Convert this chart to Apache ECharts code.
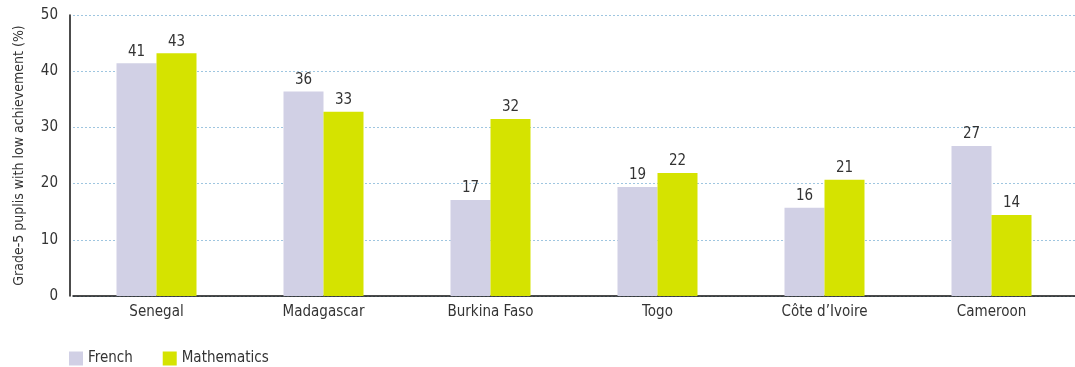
<!DOCTYPE html>
<html>
<head>
<meta charset="utf-8">
<script src="https://cdn.jsdelivr.net/npm/echarts@6/dist/echarts.min.js"></script>
<style>
  html, body { margin: 0; padding: 0; background: #fff; }
  #chart { width: 1075px; height: 367px; }
</style>
</head>
<body>
<div id="chart"></div>
<script>
// Share of grade-5 pupils with low achievement, by country and subject
const countries = ['Senegal', 'Madagascar', 'Burkina Faso', 'Togo', 'Côte d\u2019Ivoire', 'Cameroon'];
const french = [41.4, 36.4, 17.1, 19.4, 15.7, 26.7];
const mathematics = [43.2, 32.8, 31.5, 21.9, 20.7, 14.4];
const yTicks = [0, 10, 20, 30, 40, 50];

const FONT = '"DejaVu Sans Condensed", "Liberation Sans Narrow", "Roboto", sans-serif';
const TEXT = '#333';

const chart = echarts.init(document.getElementById('chart'));

function barSeries(name, values, color) {
  return {
    name: name,
    type: 'bar',
    data: values,
    barWidth: 40,
    barGap: '0%',
    itemStyle: { color: color },
    label: {
      show: true,
      position: 'top',
      distance: 4,
      color: TEXT,
      fontFamily: FONT,
      fontSize: 15,
      formatter: p => Math.round(p.value)
    }
  };
}

chart.setOption({
  animation: false,
  textStyle: { fontFamily: FONT },
  // plot area starts a few pixels right of the drawn y axis line
  grid: { left: 73, right: 0, top: 15, bottom: 71, containLabel: false },
  legend: {
    left: 64,
    top: 346,
    itemWidth: 14,
    itemHeight: 14,
    itemGap: 30,
    icon: 'rect',
    textStyle: { color: TEXT, fontFamily: FONT, fontSize: 15 },
    data: ['French', 'Mathematics']
  },
  xAxis: {
    type: 'category',
    data: countries,
    axisLine: { lineStyle: { color: '#111', width: 1.5 } },
    axisTick: { show: false },
    axisLabel: { color: TEXT, fontFamily: FONT, fontSize: 15, margin: 9 }
  },
  yAxis: {
    type: 'value',
    min: yTicks[0],
    max: yTicks[yTicks.length - 1],
    interval: 10,
    offset: 3,
    name: 'Grade-5 puplis with low achievement (%)',
    nameLocation: 'middle',
    nameGap: 44,
    nameTextStyle: { color: TEXT, fontFamily: FONT, fontSize: 14 },
    axisLine: { show: true, lineStyle: { color: '#111', width: 1.5 } },
    axisTick: { show: false },
    axisLabel: { color: TEXT, fontFamily: FONT, fontSize: 15, margin: 12 },
    splitLine: { lineStyle: { color: '#9fc6e0', type: [2, 2], width: 1 } }
  },
  series: [
    barSeries('French', french, '#d1d0e5'),
    barSeries('Mathematics', mathematics, '#d5e300')
  ]
});
</script>
</body>
</html>
